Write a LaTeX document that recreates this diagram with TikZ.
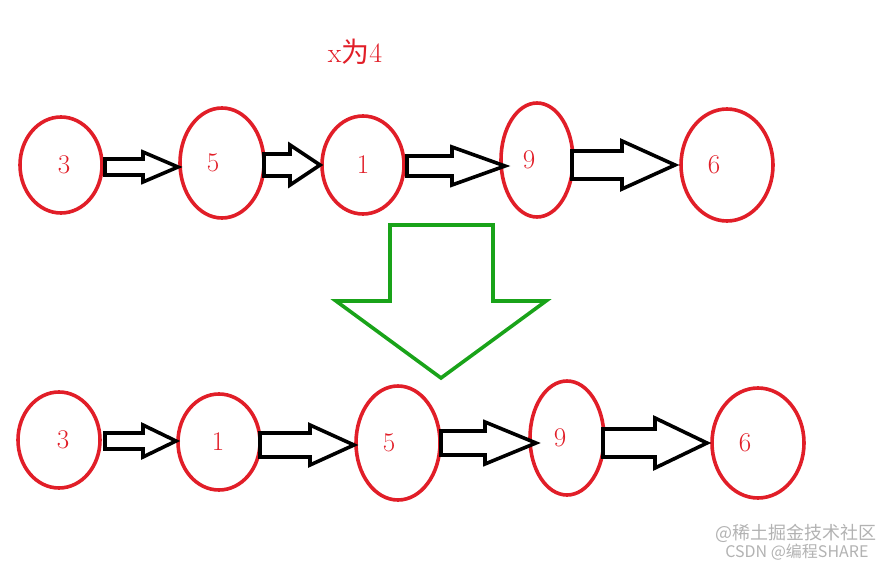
\documentclass[tikz,border=0pt]{standalone}
\usepackage{fontspec}
\newfontfamily\cjk{Noto Sans CJK SC}
\definecolor{myred}{RGB}{225,30,40}
\begin{document}
\begin{tikzpicture}[x=1pt,y=-1pt,
  num/.style={text=myred,font=\fontsize{27}{27}\selectfont},
  blk/.style={draw=black,line width=3.6pt,fill=white}]
\useasboundingbox (0,0) rectangle (885,564);
\newcommand\elli[6]{\draw[myred,line width=3.6pt] (#1,#2) ellipse [x radius=#3,y radius=#4]; \node[num] at (#6,#2) {#5};}
\newcommand\barrow[6]{% x1 x2 yc shafthalf headx headhalf
  \draw[blk] (#1,#3-#4) -- (#5,#3-#4) -- (#5,#3-#6) -- (#2,#3) -- (#5,#3+#6) -- (#5,#3+#4) -- (#1,#3+#4) -- cycle;}
% top row
\elli{61}{165}{41}{48}{3}{64}
\elli{222}{163}{42}{55}{5}{213}
\elli{363}{165}{41}{49}{1}{363}
\elli{537}{160}{36}{57}{9}{529}
\elli{727}{165}{46}{56}{6}{714}
\barrow{105}{178}{167}{8}{143}{15}
\barrow{264}{320}{165}{11}{290}{20}
\barrow{407}{505}{166}{10}{452}{19}
\barrow{572}{675}{165}{14}{622}{24}
\node[text=myred,font=\fontsize{28}{28}\selectfont] at (355,52) {x\cjk 为\rmfamily 4};
% green arrow
\draw[green!60!black!90,line width=3.6pt] (390,225) -- (493,225) -- (493,301) -- (546,301) -- (441,378) -- (336,301) -- (390,301) -- cycle;
% bottom row
\elli{59}{440}{41}{48}{3}{63}
\elli{219}{442}{41}{48}{1}{218}
\elli{398}{443}{42}{57}{5}{389}
\elli{567}{438}{37}{57}{9}{560}
\elli{758}{443}{46}{55}{6}{745}
\barrow{105}{176}{441}{8}{143}{16}
\barrow{260}{354}{445}{12}{310}{20}
\barrow{441}{536}{443}{12}{485}{21}
\barrow{603}{707}{443}{14}{655}{25}
\node[text=gray!60,font=\cjk\fontsize{18}{18}\selectfont,anchor=east] at (880,533) {@稀土掘金技术社区};
\node[text=gray!60,font=\cjk\fontsize{16}{16}\selectfont,anchor=east] at (872,552) {CSDN @编程SHARE};
\end{tikzpicture}
\end{document}
